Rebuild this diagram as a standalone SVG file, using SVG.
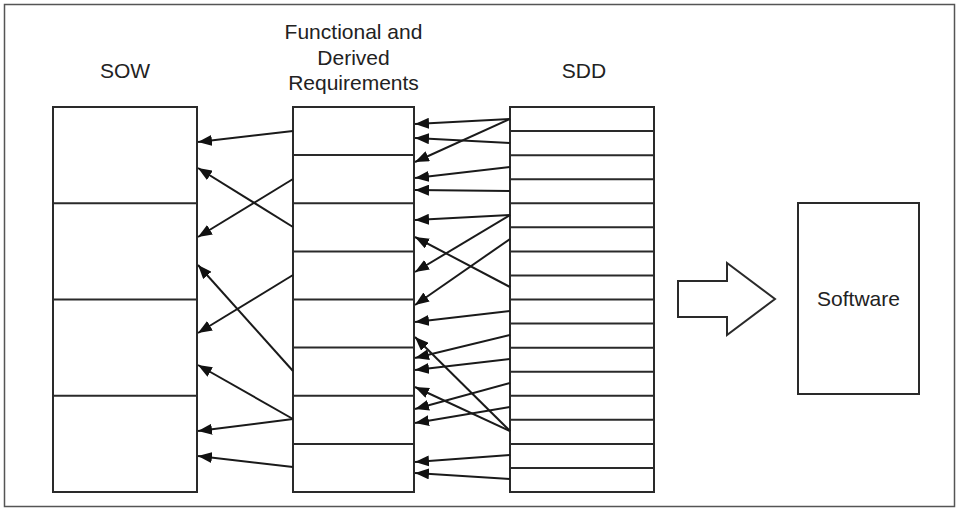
<svg xmlns="http://www.w3.org/2000/svg" width="959" height="511" viewBox="0 0 959 511">
<style>
.box{fill:#fff;stroke:#2a2a2a;stroke-width:2}
.div{stroke:#2a2a2a;stroke-width:2}
.lbl{font-family:"Liberation Sans",Arial,sans-serif;font-size:21px;fill:#222;text-anchor:middle}
.con line{stroke:#1a1a1a;stroke-width:2;marker-end:url(#ah)}
</style>
<defs>
<marker id="ah" markerUnits="userSpaceOnUse" markerWidth="14" markerHeight="11" refX="14" refY="5.5" orient="auto" viewBox="0 0 14 11">
<path d="M0,0 L14,5.5 L0,11 z" fill="#111"/>
</marker>
</defs>
<rect x="0" y="0" width="959" height="511" fill="#fff"/>
<rect x="4.5" y="4.5" width="950" height="502" fill="none" stroke="#555" stroke-width="1.5"/>

<g id="sow">
<text class="lbl" x="125" y="78">SOW</text>
<rect class="box" x="53" y="107" width="144" height="385"/>
<line class="div" x1="53" y1="203.25" x2="197" y2="203.25"/>
<line class="div" x1="53" y1="299.5" x2="197" y2="299.5"/>
<line class="div" x1="53" y1="395.75" x2="197" y2="395.75"/>
</g>

<g id="fdr">
<text class="lbl" x="353.5" y="39">Functional and</text>
<text class="lbl" x="353.5" y="64.5">Derived</text>
<text class="lbl" x="353.5" y="90">Requirements</text>
<rect class="box" x="293" y="107" width="121" height="385"/>
<line class="div" x1="293" y1="155.1" x2="414" y2="155.1"/>
<line class="div" x1="293" y1="203.25" x2="414" y2="203.25"/>
<line class="div" x1="293" y1="251.4" x2="414" y2="251.4"/>
<line class="div" x1="293" y1="299.5" x2="414" y2="299.5"/>
<line class="div" x1="293" y1="347.6" x2="414" y2="347.6"/>
<line class="div" x1="293" y1="395.75" x2="414" y2="395.75"/>
<line class="div" x1="293" y1="443.9" x2="414" y2="443.9"/>
</g>

<g id="sdd">
<text class="lbl" x="584" y="78">SDD</text>
<rect class="box" x="510" y="107" width="144" height="385"/>
<line class="div" x1="510" y1="131.06" x2="654" y2="131.06"/>
<line class="div" x1="510" y1="155.13" x2="654" y2="155.13"/>
<line class="div" x1="510" y1="179.19" x2="654" y2="179.19"/>
<line class="div" x1="510" y1="203.25" x2="654" y2="203.25"/>
<line class="div" x1="510" y1="227.31" x2="654" y2="227.31"/>
<line class="div" x1="510" y1="251.38" x2="654" y2="251.38"/>
<line class="div" x1="510" y1="275.44" x2="654" y2="275.44"/>
<line class="div" x1="510" y1="299.5" x2="654" y2="299.5"/>
<line class="div" x1="510" y1="323.56" x2="654" y2="323.56"/>
<line class="div" x1="510" y1="347.63" x2="654" y2="347.63"/>
<line class="div" x1="510" y1="371.69" x2="654" y2="371.69"/>
<line class="div" x1="510" y1="395.75" x2="654" y2="395.75"/>
<line class="div" x1="510" y1="419.81" x2="654" y2="419.81"/>
<line class="div" x1="510" y1="443.88" x2="654" y2="443.88"/>
<line class="div" x1="510" y1="467.94" x2="654" y2="467.94"/>
</g>

<g id="bigarrow">
<polygon points="678,281 727,281 727,263 775,299 727,335 727,317 678,317" fill="#fff" stroke="#2a2a2a" stroke-width="2" stroke-linejoin="miter"/>
</g>

<g id="software">
<rect class="box" x="798" y="203" width="121" height="191"/>
<text class="lbl" x="858.5" y="306">Software</text>
</g>

<g id="connectors" class="con">
<line x1="293" y1="131" x2="198" y2="142"/>
<line x1="293" y1="227" x2="198" y2="168"/>
<line x1="293" y1="179" x2="198" y2="237"/>
<line x1="293" y1="371" x2="198" y2="265"/>
<line x1="293" y1="275" x2="198" y2="333"/>
<line x1="293" y1="419" x2="198" y2="365"/>
<line x1="293" y1="419" x2="198" y2="431"/>
<line x1="293" y1="467" x2="198" y2="456"/>

<line x1="510" y1="119" x2="415" y2="124"/>
<line x1="510" y1="143" x2="415" y2="138"/>
<line x1="510" y1="119" x2="415" y2="162"/>
<line x1="510" y1="167" x2="415" y2="178"/>
<line x1="510" y1="191" x2="415" y2="190"/>
<line x1="510" y1="215" x2="415" y2="220"/>
<line x1="510" y1="215" x2="415" y2="272"/>
<line x1="510" y1="287" x2="415" y2="237"/>
<line x1="510" y1="239" x2="415" y2="305"/>
<line x1="510" y1="311" x2="415" y2="322"/>
<line x1="510" y1="335" x2="415" y2="358"/>
<line x1="510" y1="431" x2="415" y2="337"/>
<line x1="510" y1="359" x2="415" y2="370"/>
<line x1="510" y1="431" x2="415" y2="387"/>
<line x1="510" y1="383" x2="415" y2="409"/>
<line x1="510" y1="407" x2="415" y2="423"/>
<line x1="510" y1="455" x2="415" y2="462"/>
<line x1="510" y1="479" x2="415" y2="473"/>
</g>
</svg>
